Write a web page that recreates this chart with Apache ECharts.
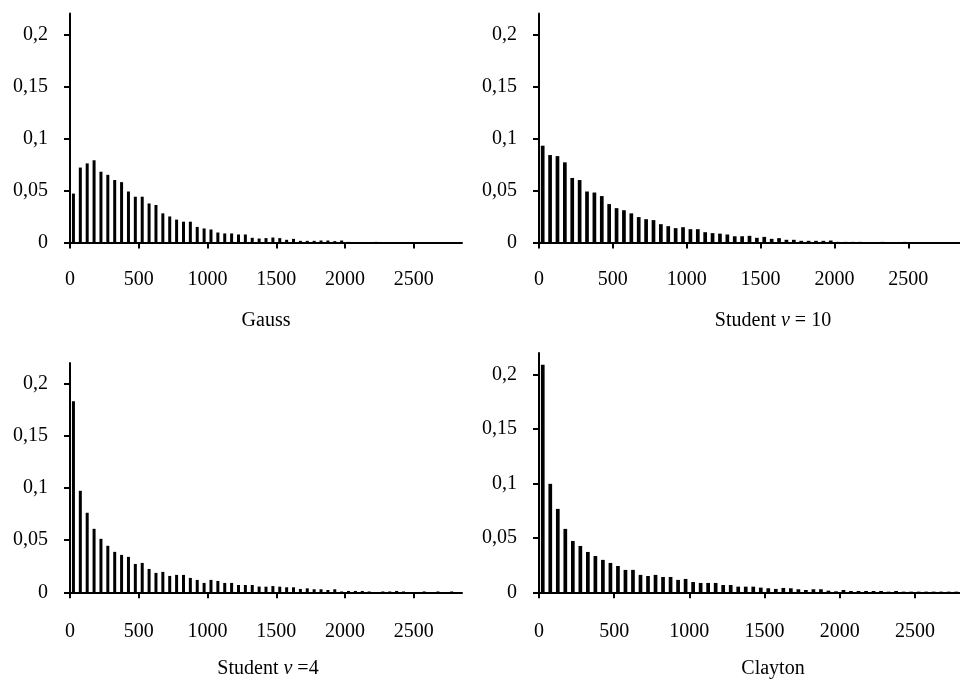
<!DOCTYPE html>
<html>
<head>
<meta charset="utf-8">
<script src="https://cdn.jsdelivr.net/npm/echarts@6/dist/echarts.min.js"></script>
<style>
  html, body { margin: 0; padding: 0; background: #fff; }
  #chart { width: 960px; height: 681px; }
</style>
</head>
<body>
<div id="chart"></div>
<script>
// bins of width 50, starting at 0
var binWidth = 50;
var xTicks = [0, 500, 1000, 1500, 2000, 2500];
var yTicks = [0, 0.05, 0.1, 0.15, 0.2];

var gauss = [0.047, 0.072, 0.076, 0.079, 0.068, 0.065, 0.060, 0.058, 0.049, 0.044,
  0.044, 0.0375, 0.036, 0.028, 0.025, 0.022, 0.020, 0.020, 0.015, 0.0135,
  0.0125, 0.0096, 0.0087, 0.0087, 0.0077, 0.0077, 0.0045, 0.0038, 0.0042, 0.0048,
  0.0042, 0.0026, 0.0035, 0.0016, 0.0016, 0.0016, 0.0019, 0.0019, 0.0013, 0.0019,
  0.0006, 0, 0, 0, 0.0006, 0, 0, 0, 0, 0, 0, 0, 0, 0, 0, 0, 0];

var student10 = [0.093, 0.084, 0.083, 0.077, 0.062, 0.060, 0.049, 0.048, 0.0446, 0.0369,
  0.033, 0.031, 0.028, 0.0244, 0.0224, 0.0215, 0.0176, 0.0157, 0.0138, 0.0147,
  0.0128, 0.0128, 0.0099, 0.009, 0.0085, 0.0077, 0.006, 0.006, 0.0064, 0.0045,
  0.0054, 0.0035, 0.0042, 0.0026, 0.0026, 0.0016, 0.0016, 0.0016, 0.0016, 0.0019,
  0.0006, 0.0006, 0.0006, 0.0006, 0, 0, 0.0006, 0, 0, 0.0006, 0, 0, 0, 0, 0, 0, 0];

var student4 = [0.1833, 0.0974, 0.0763, 0.0609, 0.0513, 0.0446, 0.0388, 0.0359, 0.034, 0.0272,
  0.0282, 0.0224, 0.0186, 0.0196, 0.0157, 0.0167, 0.0167, 0.0138, 0.0119, 0.009,
  0.0119, 0.0109, 0.009, 0.009, 0.007, 0.007, 0.007, 0.0055, 0.0054, 0.006,
  0.0054, 0.0048, 0.0048, 0.0032, 0.0038, 0.0029, 0.0029, 0.0022, 0.0029, 0.0008,
  0.0013, 0.0013, 0.0013, 0.0008, 0, 0.0008, 0.0008, 0.0013, 0.0008, 0, 0, 0.0008, 0, 0.0008, 0, 0.0008, 0];

var clayton = [0.2092, 0.0997, 0.0767, 0.0583, 0.0472, 0.0426, 0.0371, 0.0334, 0.0298, 0.027,
  0.0242, 0.0206, 0.0206, 0.016, 0.015, 0.016, 0.0141, 0.0141, 0.0114, 0.0123,
  0.0095, 0.0086, 0.0086, 0.0086, 0.0067, 0.0067, 0.0052, 0.0052, 0.0052, 0.0043,
  0.0037, 0.0031, 0.004, 0.0037, 0.0028, 0.0021, 0.0028, 0.0028, 0.0015, 0.0009,
  0.0021, 0.0012, 0.0012, 0.0012, 0.0012, 0.0012, 0.0006, 0.0012, 0.0006, 0.0006,
  0.0006, 0.0006, 0.0006, 0.0006, 0.0006, 0.0006, 0.0006];

var font = '"Liberation Serif", "Times New Roman", serif';

var panels = [
  { data: gauss,     grid: { left: 70,  top: 13.5, width: 392, height: 229 },   xMax: 2850, barW: 3,   labelGap: 27 },
  { data: student10, grid: { left: 539, top: 13.5, width: 423, height: 229 },   xMax: 2850, barW: 3.7, labelGap: 27 },
  { data: student4,  grid: { left: 70,  top: 363,  width: 392, height: 229.3 }, xMax: 2850, barW: 3,   labelGap: 29 },
  { data: clayton,   grid: { left: 539, top: 353,  width: 423, height: 239.3 }, xMax: 2800, barW: 3.7, labelGap: 29 }
];

var grids = [], xAxes = [], yAxes = [], series = [];
panels.forEach(function (p, i) {
  grids.push(p.grid);
  xAxes.push({
    type: 'value', gridIndex: i, min: 0, max: p.xMax,
    splitLine: { show: false },
    axisLine: { show: true, onZero: false, lineStyle: { color: '#000', width: 2 } },
    axisTick: { show: true, length: 6, customValues: xTicks, lineStyle: { color: '#000', width: 2 } },
    axisLabel: {
      customValues: xTicks, margin: p.labelGap, color: '#000', fontSize: 20, fontFamily: font,
      formatter: function (v) { return String(v); }
    }
  });
  yAxes.push({
    type: 'value', gridIndex: i, min: 0, max: 0.22,
    splitLine: { show: false },
    axisLine: { show: true, lineStyle: { color: '#000', width: 2 } },
    axisTick: { show: true, length: 6, customValues: yTicks, lineStyle: { color: '#000', width: 2 } },
    axisLabel: {
      customValues: yTicks, margin: 22, color: '#000', fontSize: 20, fontFamily: font,
      formatter: function (v) { return String(v).replace('.', ','); }
    }
  });
  series.push({
    type: 'bar', xAxisIndex: i, yAxisIndex: i,
    barWidth: p.barW,
    itemStyle: { color: '#000' },
    silent: true,
    data: p.data.map(function (v, k) { return [binWidth * k + binWidth / 2, v]; })
  });
});

function caption(x, y, text) {
  return {
    type: 'text', x: x, y: y,
    style: {
      text: text, textAlign: 'center', textVerticalAlign: 'middle',
      fill: '#000', font: '20px ' + font,
      rich: {
        n: { fontSize: 20, fontFamily: font, fill: '#000' },
        i: { fontSize: 20, fontFamily: font, fontStyle: 'italic', fill: '#000' }
      }
    }
  };
}

var chart = echarts.init(document.getElementById('chart'), null, { renderer: 'canvas' });
chart.setOption({
  animation: false,
  backgroundColor: '#fff',
  grid: grids,
  xAxis: xAxes,
  yAxis: yAxes,
  series: series,
  graphic: [
    caption(266, 321, '{n|Gauss}'),
    caption(773, 321, '{n|Student }{i|v}{n| = 10}'),
    caption(268, 669, '{n|Student }{i|v}{n| =4}'),
    caption(773, 669, '{n|Clayton}')
  ]
});
</script>
</body>
</html>
